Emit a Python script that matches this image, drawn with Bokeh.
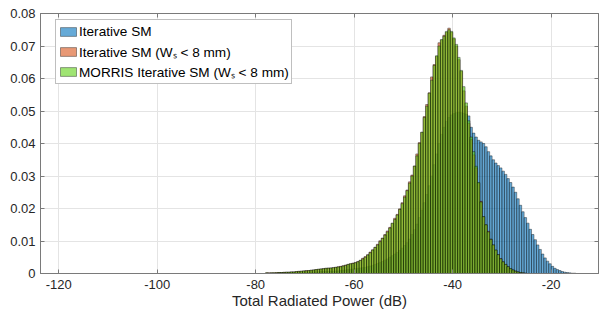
from bokeh.plotting import figure
from bokeh.models import Range1d, FixedTicker, Legend, LegendItem, ColumnDataSource, LinearAxis
from bokeh.embed import file_html
from bokeh.resources import INLINE

bin_width = 0.5
first_edge = -78.0

x_ticks = [-120, -100, -80, -60, -40, -20]
x_tick_labels = ["-120", "-100", "-80", "-60", "-40", "-20"]
y_ticks = [0, 0.01, 0.02, 0.03, 0.04, 0.05, 0.06, 0.07, 0.08]
y_tick_labels = ["0", "0.01", "0.02", "0.03", "0.04", "0.05", "0.06", "0.07", "0.08"]

series_names = ["Iterative SM", "Iterative SM (W\u209b < 8 mm)", "MORRIS Iterative SM (W\u209b < 8 mm)"]

iterative_sm = [
    .0001, .0001, .0001, .0001, .0001, .0002, .0002, .0002, .0002, .0002,
    .0003, .0003, .0003, .0003, .0004, .0004, .0004, .0004, .0005, .0005,
    .0005, .0005, .0006, .0006, .0006, .0006, .0007, .0007, .0008, .0008,
    .0009, .0010, .0011, .0012, .0013, .0014, .0015, .0016, .0017, .0018,
    .0019, .0021, .0023, .0025, .0028, .0031, .0034, .0037, .0041, .0045,
    .0050, .0055, .0060, .0065, .0071, .0078, .0086, .0095, .0106, .0120,
    .0135, .0152, .0172, .0195, .0218, .0243, .0270, .0300, .0335, .0368,
    .0400, .0428, .0450, .0468, .0480, .0488, .0492, .0495, .0496, .0495,
    .0493, .0490, .0485, .0450, .0432, .0420, .0410, .0405, .0400, .0390,
    .0375, .0362, .0350, .0340, .0332, .0325, .0315, .0305, .0292, .0280,
    .0266, .0250, .0230, .0210, .0190, .0172, .0155, .0136, .0120, .0104,
    .0088, .0074, .0060, .0048, .0038, .0030, .0022, .0016, .0012, .0009,
    .0006, .0004, .0003, .0002, .0001, .0001,
]

iterative_sm_ws8 = [
    .0002, .0002, .0002, .0002, .0003, .0003, .0003, .0004, .0004, .0004,
    .0005, .0005, .0006, .0007, .0007, .0008, .0009, .0009, .0010, .0011,
    .0012, .0013, .0014, .0015, .0016, .0017, .0017, .0018, .0019, .0021,
    .0022, .0024, .0026, .0028, .0030, .0032, .0034, .0037, .0041, .0047,
    .0052, .0058, .0066, .0073, .0081, .0090, .0101, .0109, .0120, .0131,
    .0142, .0154, .0170, .0182, .0199, .0218, .0239, .0257, .0282, .0303,
    .0331, .0368, .0403, .0434, .0483, .0520, .0556, .0605, .0643, .0668,
    .0710, .0718, .0733, .0742, .0755, .0742, .0722, .0700, .0658, .0622,
    .0562, .0515, .0462, .0412, .0365, .0325, .0278, .0222, .0175, .0150,
    .0130, .0106, .0088, .0072, .0058, .0046, .0036, .0028, .0021, .0015,
    .0011, .0008, .0005, .0003, .0002, .0001,
]

morris_ws8 = [
    .0002, .0001, .0002, .0002, .0002, .0003, .0003, .0003, .0004, .0004,
    .0005, .0005, .0006, .0006, .0007, .0008, .0008, .0009, .0010, .0011,
    .0012, .0013, .0014, .0015, .0016, .0016, .0017, .0018, .0019, .0020,
    .0021, .0023, .0025, .0028, .0030, .0031, .0033, .0036, .0040, .0045,
    .0050, .0057, .0064, .0072, .0080, .0088, .0098, .0108, .0118, .0128,
    .0140, .0155, .0166, .0180, .0197, .0215, .0235, .0255, .0278, .0300,
    .0330, .0362, .0400, .0435, .0480, .0515, .0555, .0595, .0640, .0670,
    .0700, .0720, .0730, .0745, .0750, .0745, .0725, .0705, .0665, .0625,
    .0575, .0525, .0470, .0420, .0375, .0330, .0280, .0220, .0175, .0150,
    .0128, .0105, .0088, .0072, .0058, .0045, .0036, .0028, .0021, .0015,
    .0011, .0007, .0005, .0003, .0002, .0001,
]

colors = ["#0072BD", "#D95319", "#5FD214"]

FONT = "Liberation Sans"
TXT = "#262626"
AX = "#7a7a7a"

p = figure(width=600, height=311, x_range=Range1d(-123.7, -10.4), y_range=Range1d(0, 0.08),
           output_backend="svg", toolbar_location=None,
           min_border_left=40, min_border_right=2, min_border_top=13, min_border_bottom=38)
p.background_fill_color = "white"
p.border_fill_color = "white"
p.outline_line_color = AX
p.outline_line_width = 1

renderers = []
for vals, col in zip([iterative_sm, iterative_sm_ws8, morris_ws8], colors):
    centers = [first_edge + bin_width * (i + 0.5) for i in range(len(vals))]
    src = ColumnDataSource(dict(x=centers, top=vals))
    r = p.vbar(x="x", top="top", width=bin_width, bottom=0, source=src,
               fill_color=col, fill_alpha=0.6, line_color="black", line_alpha=0.75, line_width=0.5)
    renderers.append(r)

xa = p.below[0]
ya = p.left[0]

for ax, ticks, labels in [(xa, x_ticks, x_tick_labels), (ya, y_ticks, y_tick_labels)]:
    ax.ticker = FixedTicker(ticks=ticks)
    ax.major_label_overrides = {t: l for t, l in zip(ticks, labels)}
    ax.major_tick_in = 4
    ax.major_tick_out = 0
    ax.minor_tick_line_color = None
    ax.axis_line_color = AX
    ax.major_tick_line_color = AX
    ax.major_label_text_font = FONT
    ax.major_label_text_font_size = "13px"
    ax.major_label_text_color = TXT
    ax.major_label_standoff = 5

xa.major_label_standoff = 6
xa.axis_label = "Total Radiated Power (dB)"
xa.axis_label_text_font = FONT
xa.axis_label_text_font_size = "15px"
xa.axis_label_text_font_style = "normal"
xa.axis_label_text_color = TXT
xa.axis_label_standoff = 0

# mirrored tick marks on top and right (box on)
for loc, ticks in [("above", x_ticks), ("right", y_ticks)]:
    bx = LinearAxis(ticker=FixedTicker(ticks=ticks), major_tick_in=4, major_tick_out=0,
                    minor_tick_line_color=None, axis_line_color=AX, major_tick_line_color=AX,
                    major_label_text_font_size="0px", major_label_standoff=0,
                    major_label_overrides={t: "" for t in ticks})
    p.add_layout(bx, loc)

p.xgrid.ticker = FixedTicker(ticks=x_ticks)
p.ygrid.ticker = FixedTicker(ticks=y_ticks)
p.grid.grid_line_color = "#e4e4e4"
p.grid.grid_line_width = 1

legend = Legend(items=[LegendItem(label=n, renderers=[r]) for n, r in zip(series_names, renderers)],
                location=(15, 189))
legend.margin = 0
legend.padding = 2
legend.spacing = 1
legend.label_height = 19
legend.glyph_height = 11
legend.glyph_width = 20
legend.label_standoff = 1
legend.label_text_font = FONT
legend.label_text_font_size = "13.6px"
legend.label_text_color = "black"
legend.border_line_color = "#7f7f7f"
legend.border_line_width = 1
legend.background_fill_color = "white"
legend.background_fill_alpha = 1
p.add_layout(legend)

open("out.html", "w").write(file_html(p, INLINE))
